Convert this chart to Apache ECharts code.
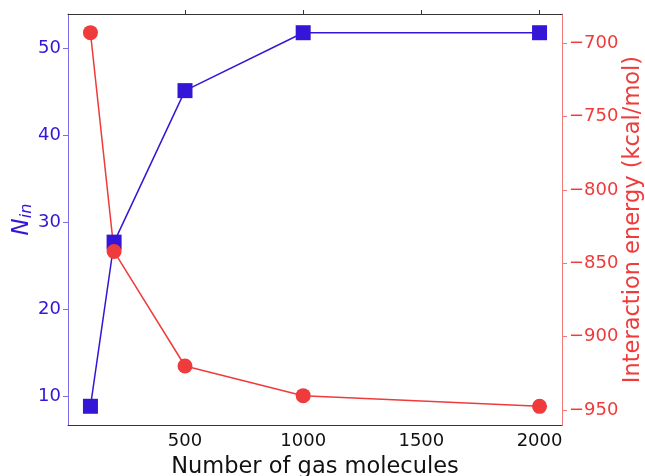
<!DOCTYPE html>
<html>
<head>
<meta charset="utf-8">
<script src="https://cdn.jsdelivr.net/npm/echarts@6/dist/echarts.min.js"></script>
<style>
  html, body { margin: 0; padding: 0; background: #fff; }
  #chart { width: 645px; height: 476px; }
</style>
</head>
<body>
<div id="chart"></div>
<script>
// data
const molecules = [100, 200, 500, 1000, 2000];
const nIn = [8.85, 27.7, 45.1, 51.75, 51.75];
const energy = [-692.8, -842, -920, -940.2, -947.5];
const xTicks = [500, 1000, 1500, 2000];
const leftTicks = [10, 20, 30, 40, 50];
const rightTicks = [-950, -900, -850, -800, -750, -700];

const BLUE = '#3416d6';
const RED = '#ef3b3b';
const FONT = 'DejaVu Sans';

const minus = (v) => String(v).replace('-', '\u2212');

const chart = echarts.init(document.getElementById('chart'));
chart.setOption({
  animation: false,
  textStyle: { fontFamily: FONT },
  grid: { left: 68, right: 83, top: 14, bottom: 51, containLabel: false, outerBoundsMode: 'none' },
  xAxis: [
    {
      type: 'value', min: 5, max: 2095, position: 'bottom',
      name: 'Number of gas molecules', nameLocation: 'middle', nameGap: 31, nameMoveOverlap: false,
      nameTextStyle: { fontSize: 22.5, color: '#111', fontFamily: FONT },
      axisLine: { lineStyle: { color: '#333', width: 1 } },
      axisTick: { show: false },
      axisLabel: { customValues: xTicks, fontSize: 18, color: '#111', margin: 7, formatter: (v) => String(v) },
      splitLine: { show: false },
    },
    {
      type: 'value', min: 5, max: 2095, position: 'top',
      axisLine: { show: true, lineStyle: { color: '#333', width: 1 } },
      axisTick: { show: true, customValues: xTicks, length: 4, lineStyle: { color: '#333' } },
      axisLabel: { show: false },
      splitLine: { show: false },
    },
  ],
  yAxis: [
    {
      type: 'value', min: 6.7, max: 53.9, position: 'left',
      name: '{i|N}{s|in}', nameLocation: 'middle', nameGap: 34, nameRotate: 90, nameMoveOverlap: false,
      nameTextStyle: {
        rich: {
          i: { fontSize: 23, fontStyle: 'italic', color: BLUE, fontFamily: FONT },
          s: { fontSize: 16, fontStyle: 'italic', color: BLUE, fontFamily: FONT, padding: [0, 0, -8, 0] },
        },
      },
      axisLine: { show: true, lineStyle: { color: '#7b6ee6', width: 1 } },
      axisTick: { show: true, customValues: leftTicks, length: 5, lineStyle: { color: '#7b6ee6' } },
      axisLabel: { customValues: leftTicks, fontSize: 18, color: BLUE, margin: 7 },
      splitLine: { show: false },
    },
    {
      type: 'value', min: -960.2, max: -680.1, position: 'right',
      name: 'Interaction energy (kcal/mol)', nameLocation: 'middle', nameGap: 60, nameRotate: 90, nameMoveOverlap: false,
      nameTextStyle: { fontSize: 22.5, color: RED, fontFamily: FONT },
      axisLine: { show: true, lineStyle: { color: '#f07a7a', width: 1 } },
      axisTick: { show: true, customValues: rightTicks, length: 5, lineStyle: { color: '#f07a7a' } },
      axisLabel: { customValues: rightTicks, fontSize: 18, color: RED, margin: 7, formatter: minus },
      splitLine: { show: false },
    },
  ],
  series: [
    {
      type: 'line', xAxisIndex: 0, yAxisIndex: 0,
      data: molecules.map((x, i) => [x, nIn[i]]),
      symbol: 'rect', symbolSize: 15,
      lineStyle: { color: BLUE, width: 1.5 },
      itemStyle: { color: BLUE },
    },
    {
      type: 'line', xAxisIndex: 0, yAxisIndex: 1,
      data: molecules.map((x, i) => [x, energy[i]]),
      symbol: 'circle', symbolSize: 15,
      lineStyle: { color: RED, width: 1.5 },
      itemStyle: { color: RED },
    },
  ],
});
</script>
</body>
</html>
